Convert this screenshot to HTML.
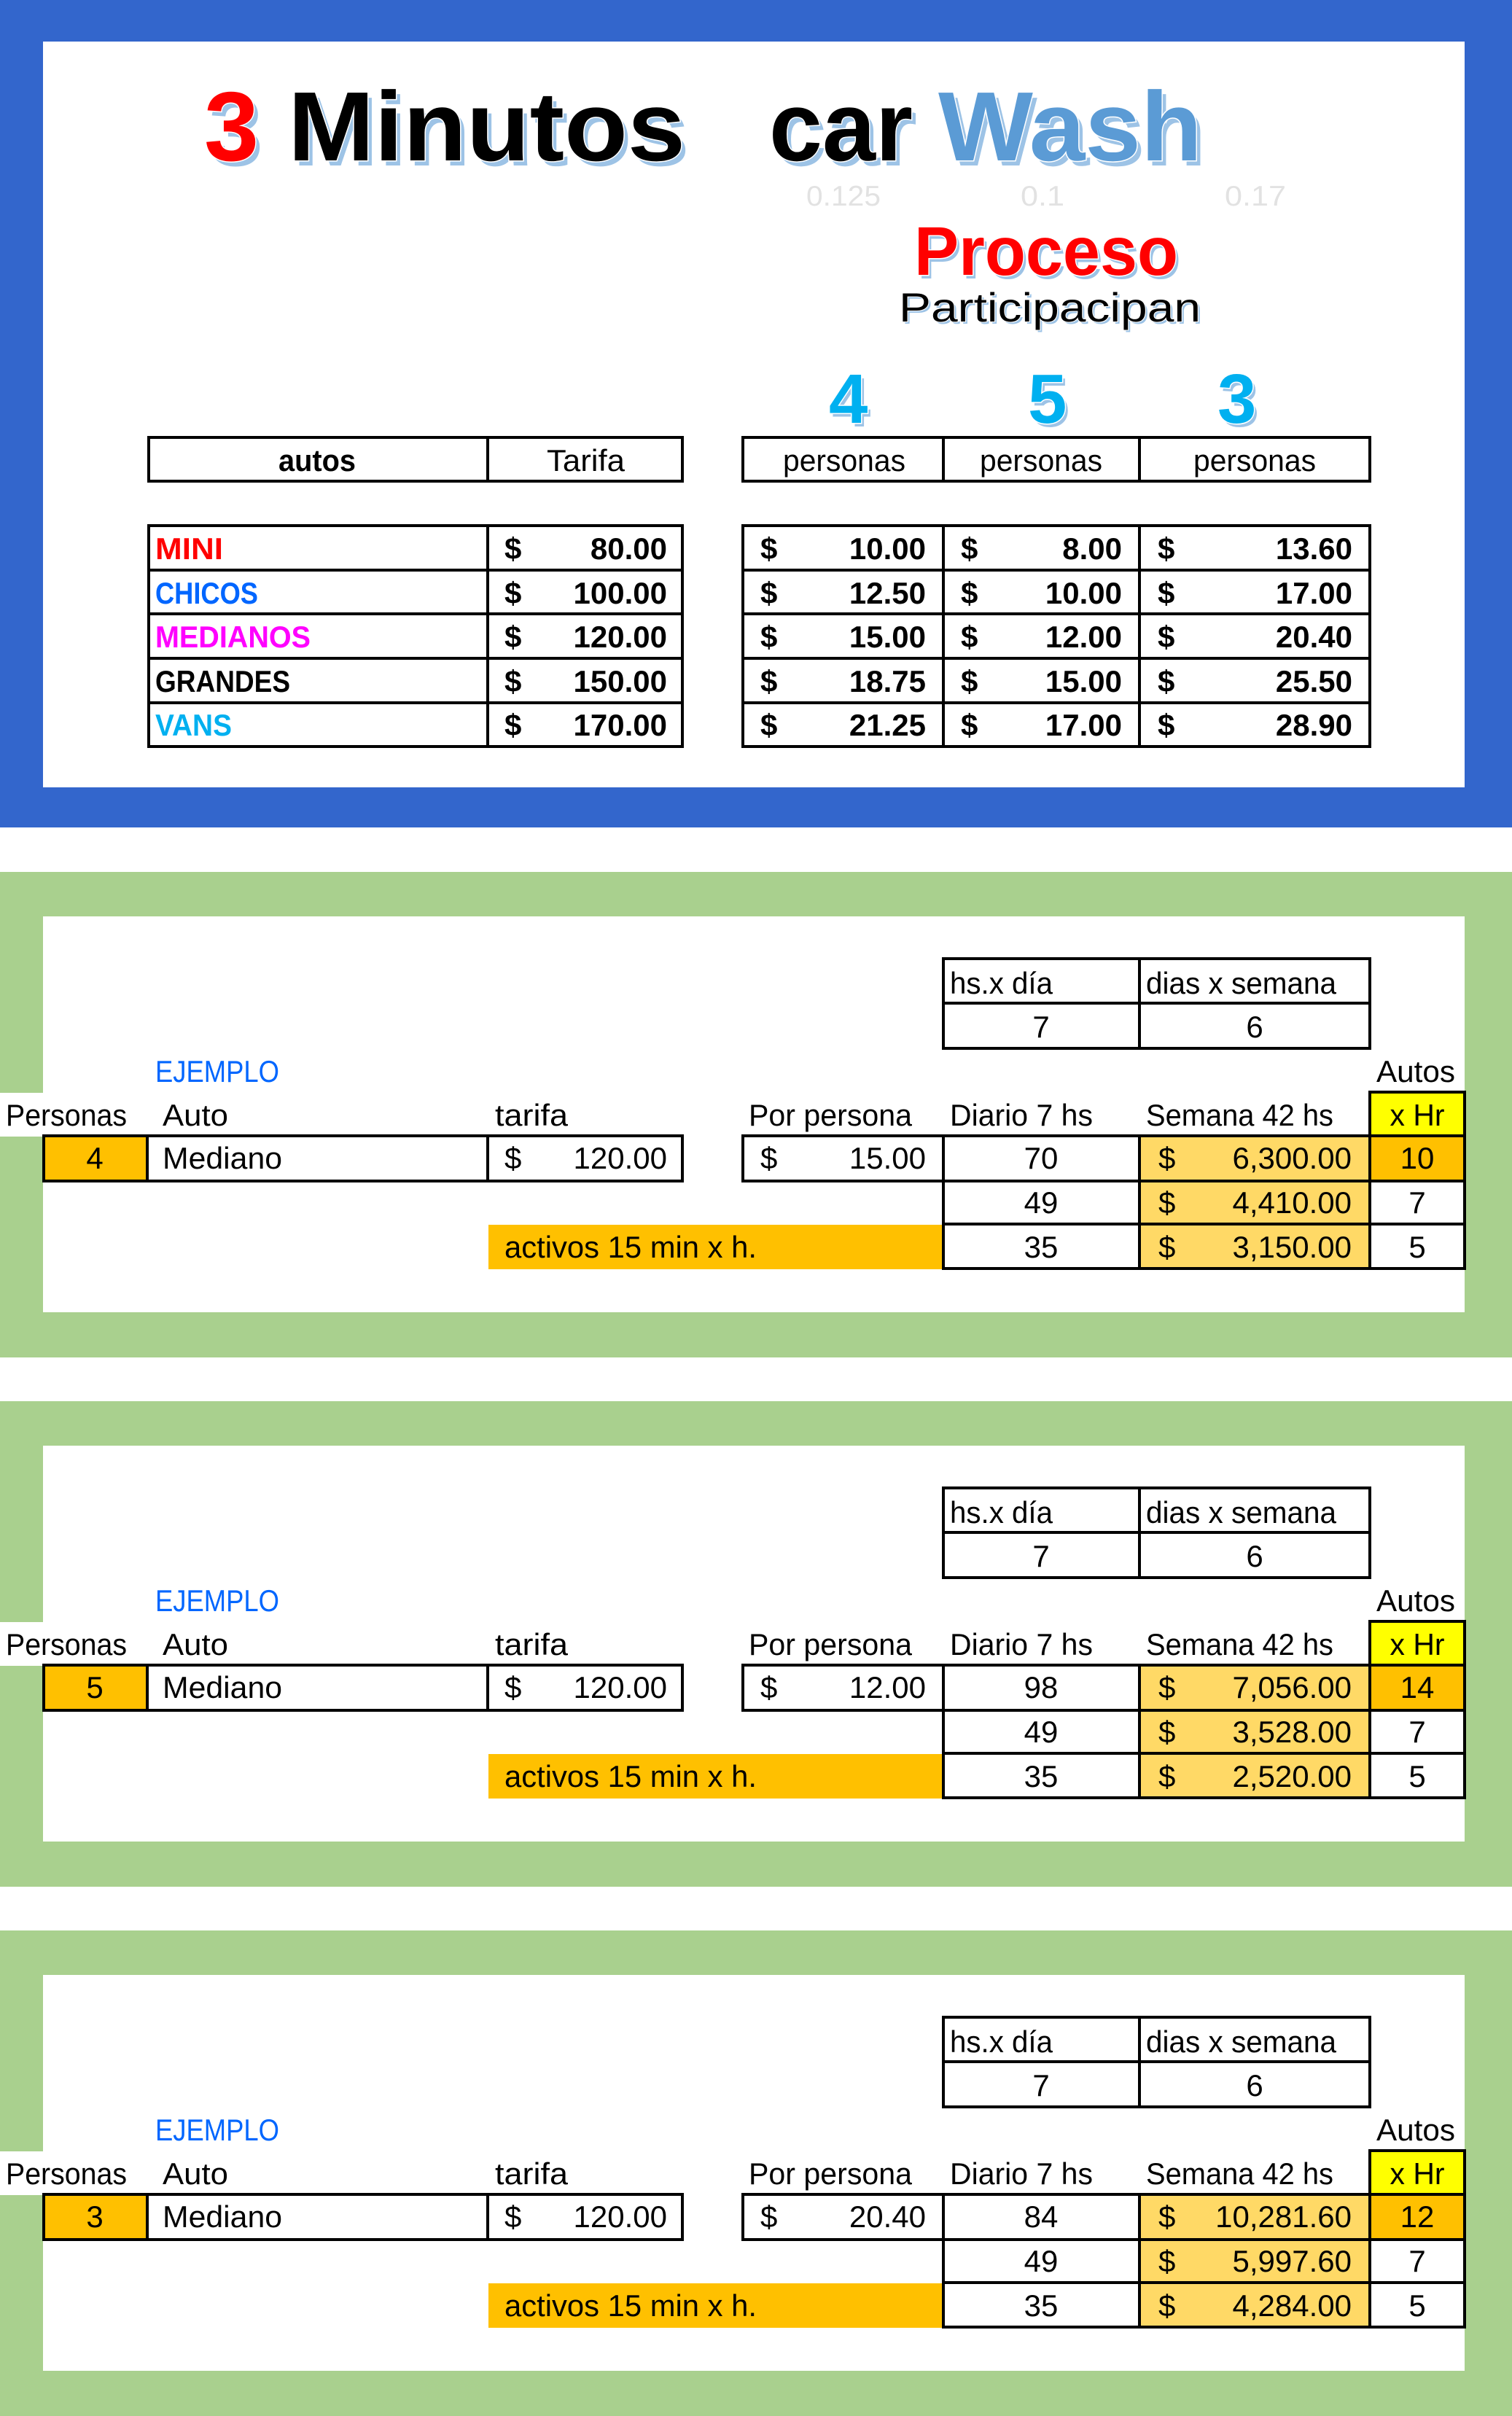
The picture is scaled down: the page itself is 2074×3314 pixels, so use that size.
<!DOCTYPE html>
<html><head><meta charset="utf-8"><style>html,body{margin:0;padding:0;background:#fff}svg{display:block}</style></head>
<body>
<svg width="2074" height="3314" viewBox="0 0 2074 3314" xmlns="http://www.w3.org/2000/svg" font-family="'Liberation Sans', Arial, sans-serif">
<rect x="0" y="0" width="2074" height="3314" fill="#fff"/>
<!-- TOP BLUE FRAME -->
<rect x="0" y="0" width="2074" height="1135" fill="#3366CC"/>
<rect x="59" y="57" width="1950" height="1023" fill="#fff"/>

<!-- Title shadows -->
<g fill="#9DC3E6" font-weight="bold">
  <g transform="translate(6,7)" font-size="135">
    <text x="280" y="220">3</text>
    <text x="395" y="220" textLength="545" lengthAdjust="spacingAndGlyphs">Minutos</text>
    <text x="1055" y="220" textLength="197" lengthAdjust="spacingAndGlyphs">car</text>
    <text x="1287" y="220" textLength="362" lengthAdjust="spacingAndGlyphs">Wash</text>
  </g>
  <g transform="translate(4,5)">
    <text x="1254" y="377" font-size="95" textLength="362" lengthAdjust="spacingAndGlyphs">Proceso</text>
    <text x="1137" y="580" font-size="96">4</text>
    <text x="1410" y="580" font-size="96">5</text>
    <text x="1670" y="580" font-size="96">3</text>
  </g>
  <text x="1236" y="444" font-size="56" font-weight="normal" textLength="414" lengthAdjust="spacingAndGlyphs">Participacipan</text>
</g>
<!-- Title main -->
<g font-weight="bold" stroke="#fff" stroke-width="3" paint-order="stroke">
  <g font-size="135">
    <text x="280" y="220" fill="#FF0000">3</text>
    <text x="395" y="220" fill="#000" textLength="545" lengthAdjust="spacingAndGlyphs">Minutos</text>
    <text x="1055" y="220" fill="#000" textLength="197" lengthAdjust="spacingAndGlyphs">car</text>
    <text x="1287" y="220" fill="#5B9BD5" textLength="362" lengthAdjust="spacingAndGlyphs">Wash</text>
  </g>
  <text x="1254" y="377" font-size="95" fill="#FF0000" textLength="362" lengthAdjust="spacingAndGlyphs">Proceso</text>
  <text x="1137" y="580" font-size="96" fill="#00B0F0">4</text>
  <text x="1410" y="580" font-size="96" fill="#00B0F0">5</text>
  <text x="1670" y="580" font-size="96" fill="#00B0F0">3</text>
  <text x="1233" y="441" font-size="56" font-weight="normal" fill="#000" stroke-width="2" textLength="414" lengthAdjust="spacingAndGlyphs">Participacipan</text>
</g>
<g fill="#E2E2E2" font-size="39">
  <text x="1106" y="282" textLength="102" lengthAdjust="spacingAndGlyphs">0.125</text>
  <text x="1400" y="282" textLength="60" lengthAdjust="spacingAndGlyphs">0.1</text>
  <text x="1680" y="282" textLength="84" lengthAdjust="spacingAndGlyphs">0.17</text>
</g>

<!-- Header tables -->
<g fill="none" stroke="#000" stroke-width="4">
  <rect x="204" y="600" width="732" height="60"/>
  <line x1="669" y1="600" x2="669" y2="660"/>
  <rect x="1019" y="600" width="860" height="60"/>
  <line x1="1294" y1="600" x2="1294" y2="660"/>
  <line x1="1563" y1="600" x2="1563" y2="660"/>
  <rect x="204" y="721" width="732" height="303"/>
  <line x1="669" y1="721" x2="669" y2="1024"/>
  <line x1="204" y1="782" x2="936" y2="782"/>
  <line x1="204" y1="842" x2="936" y2="842"/>
  <line x1="204" y1="903" x2="936" y2="903"/>
  <line x1="204" y1="964" x2="936" y2="964"/>
  <rect x="1019" y="721" width="860" height="303"/>
  <line x1="1294" y1="721" x2="1294" y2="1024"/>
  <line x1="1563" y1="721" x2="1563" y2="1024"/>
  <line x1="1019" y1="782" x2="1879" y2="782"/>
  <line x1="1019" y1="842" x2="1879" y2="842"/>
  <line x1="1019" y1="903" x2="1879" y2="903"/>
  <line x1="1019" y1="964" x2="1879" y2="964"/>
</g>
<g font-size="42" fill="#000">
  <text x="382" y="646" font-weight="bold" textLength="106" lengthAdjust="spacingAndGlyphs">autos</text>
  <text x="750" y="646" textLength="107" lengthAdjust="spacingAndGlyphs">Tarifa</text>
  <text x="1074" y="646" textLength="168" lengthAdjust="spacingAndGlyphs">personas</text>
  <text x="1344" y="646" textLength="168" lengthAdjust="spacingAndGlyphs">personas</text>
  <text x="1637" y="646" textLength="168" lengthAdjust="spacingAndGlyphs">personas</text>
</g>
<g font-size="42" font-weight="bold" fill="#000">
  <text x="213" y="767" fill="#FF0000" textLength="93" lengthAdjust="spacingAndGlyphs">MINI</text>
  <text x="213" y="828" fill="#0066FF" textLength="141" lengthAdjust="spacingAndGlyphs">CHICOS</text>
  <text x="213" y="888" fill="#FF00FF" textLength="213" lengthAdjust="spacingAndGlyphs">MEDIANOS</text>
  <text x="213" y="949" textLength="185" lengthAdjust="spacingAndGlyphs">GRANDES</text>
  <text x="213" y="1009" fill="#00B0F0" textLength="105" lengthAdjust="spacingAndGlyphs">VANS</text>
  <g>
    <text x="692" y="767">$</text><text x="692" y="828">$</text><text x="692" y="888">$</text><text x="692" y="949">$</text><text x="692" y="1009">$</text>
    <text x="1043" y="767">$</text><text x="1043" y="828">$</text><text x="1043" y="888">$</text><text x="1043" y="949">$</text><text x="1043" y="1009">$</text>
    <text x="1318" y="767">$</text><text x="1318" y="828">$</text><text x="1318" y="888">$</text><text x="1318" y="949">$</text><text x="1318" y="1009">$</text>
    <text x="1588" y="767">$</text><text x="1588" y="828">$</text><text x="1588" y="888">$</text><text x="1588" y="949">$</text><text x="1588" y="1009">$</text>
  </g>
  <g text-anchor="end">
    <text x="915" y="767">80.00</text><text x="915" y="828">100.00</text><text x="915" y="888">120.00</text><text x="915" y="949">150.00</text><text x="915" y="1009">170.00</text>
    <text x="1270" y="767">10.00</text><text x="1270" y="828">12.50</text><text x="1270" y="888">15.00</text><text x="1270" y="949">18.75</text><text x="1270" y="1009">21.25</text>
    <text x="1539" y="767">8.00</text><text x="1539" y="828">10.00</text><text x="1539" y="888">12.00</text><text x="1539" y="949">15.00</text><text x="1539" y="1009">17.00</text>
    <text x="1855" y="767">13.60</text><text x="1855" y="828">17.00</text><text x="1855" y="888">20.40</text><text x="1855" y="949">25.50</text><text x="1855" y="1009">28.90</text>
  </g>
</g>

<!-- SECTION TEMPLATE via symbol-like groups -->
<defs>
  <g id="secbase">
    <rect x="0" y="1196" width="2074" height="666" fill="#A9D08E"/>
    <rect x="59" y="1257" width="1950" height="543" fill="#fff"/>
    <rect x="0" y="1499" width="59" height="60" fill="#fff"/>
    <rect x="59" y="1558" width="143" height="62" fill="#FFC000"/>
    <rect x="1563" y="1558" width="316" height="182" fill="#FFD966"/>
    <rect x="1879" y="1558" width="130" height="62" fill="#FFC000"/>
    <rect x="1879" y="1498" width="130" height="60" fill="#FFFF00"/>
    <rect x="670" y="1680" width="624" height="61" fill="#FFC000"/>
    <g fill="none" stroke="#000" stroke-width="4">
      <rect x="1294" y="1315" width="585" height="123"/>
      <line x1="1294" y1="1376" x2="1879" y2="1376"/>
      <line x1="1563" y1="1315" x2="1563" y2="1438"/>
      <rect x="1879" y="1498" width="130" height="60"/>
      <rect x="60" y="1558" width="876" height="62"/>
      <line x1="202" y1="1558" x2="202" y2="1620"/>
      <line x1="669" y1="1558" x2="669" y2="1620"/>
      <rect x="1019" y="1558" width="990" height="62"/>
      <line x1="1294" y1="1558" x2="1294" y2="1620"/>
      <line x1="1563" y1="1558" x2="1563" y2="1620"/>
      <line x1="1879" y1="1558" x2="1879" y2="1620"/>
      <rect x="1294" y="1620" width="715" height="120"/>
      <line x1="1294" y1="1679" x2="2009" y2="1679"/>
      <line x1="1563" y1="1620" x2="1563" y2="1740"/>
      <line x1="1879" y1="1620" x2="1879" y2="1740"/>
    </g>
    <g font-size="42" fill="#000">
      <text x="1303" y="1363" textLength="141" lengthAdjust="spacingAndGlyphs">hs.x día</text>
      <text x="1572" y="1363" textLength="261" lengthAdjust="spacingAndGlyphs">dias x semana</text>
      <text x="1428" y="1423" text-anchor="middle">7</text>
      <text x="1721" y="1423" text-anchor="middle">6</text>
      <text x="213" y="1484" fill="#0066FF" textLength="170" lengthAdjust="spacingAndGlyphs">EJEMPLO</text>
      <text x="1888" y="1484" textLength="108" lengthAdjust="spacingAndGlyphs">Autos</text>
      <text x="8" y="1544" textLength="166" lengthAdjust="spacingAndGlyphs">Personas</text>
      <text x="223" y="1544" textLength="90" lengthAdjust="spacingAndGlyphs">Auto</text>
      <text x="679" y="1544" textLength="100" lengthAdjust="spacingAndGlyphs">tarifa</text>
      <text x="1027" y="1544" textLength="224" lengthAdjust="spacingAndGlyphs">Por persona</text>
      <text x="1303" y="1544" textLength="196" lengthAdjust="spacingAndGlyphs">Diario 7 hs</text>
      <text x="1572" y="1544" textLength="257" lengthAdjust="spacingAndGlyphs">Semana 42 hs</text>
      <text x="1944" y="1544" text-anchor="middle" textLength="75" lengthAdjust="spacingAndGlyphs">x Hr</text>
      <text x="223" y="1603" textLength="164" lengthAdjust="spacingAndGlyphs">Mediano</text>
      <text x="692" y="1603">$</text>
      <text x="915" y="1603" text-anchor="end">120.00</text>
      <text x="1043" y="1603">$</text>
      <text x="1589" y="1603">$</text>
      <text x="1589" y="1664">$</text>
      <text x="1589" y="1725">$</text>
      <text x="1428" y="1664" text-anchor="middle">49</text>
      <text x="1944" y="1664" text-anchor="middle">7</text>
      <text x="692" y="1725" textLength="346" lengthAdjust="spacingAndGlyphs">activos 15 min x h.</text>
      <text x="1428" y="1725" text-anchor="middle">35</text>
      <text x="1944" y="1725" text-anchor="middle">5</text>
    </g>
  </g>
</defs>

<!-- Section 1 -->
<use href="#secbase"/>
<g font-size="42" fill="#000">
  <text x="130" y="1603" text-anchor="middle">4</text>
  <text x="1270" y="1603" text-anchor="end">15.00</text>
  <text x="1428" y="1603" text-anchor="middle">70</text>
  <text x="1854" y="1603" text-anchor="end">6,300.00</text>
  <text x="1944" y="1603" text-anchor="middle">10</text>
  <text x="1854" y="1664" text-anchor="end">4,410.00</text>
  <text x="1854" y="1725" text-anchor="end">3,150.00</text>
</g>

<!-- Section 2 -->
<g transform="translate(0,726)">
  <use href="#secbase"/>
  <g font-size="42" fill="#000">
    <text x="130" y="1603" text-anchor="middle">5</text>
    <text x="1270" y="1603" text-anchor="end">12.00</text>
    <text x="1428" y="1603" text-anchor="middle">98</text>
    <text x="1854" y="1603" text-anchor="end">7,056.00</text>
    <text x="1944" y="1603" text-anchor="middle">14</text>
    <text x="1854" y="1664" text-anchor="end">3,528.00</text>
    <text x="1854" y="1725" text-anchor="end">2,520.00</text>
  </g>
</g>

<!-- Section 3 -->
<g transform="translate(0,1452)">
  <use href="#secbase"/>
  <g font-size="42" fill="#000">
    <text x="130" y="1603" text-anchor="middle">3</text>
    <text x="1270" y="1603" text-anchor="end">20.40</text>
    <text x="1428" y="1603" text-anchor="middle">84</text>
    <text x="1854" y="1603" text-anchor="end">10,281.60</text>
    <text x="1944" y="1603" text-anchor="middle">12</text>
    <text x="1854" y="1664" text-anchor="end">5,997.60</text>
    <text x="1854" y="1725" text-anchor="end">4,284.00</text>
  </g>
</g>
</svg>
</body></html>
